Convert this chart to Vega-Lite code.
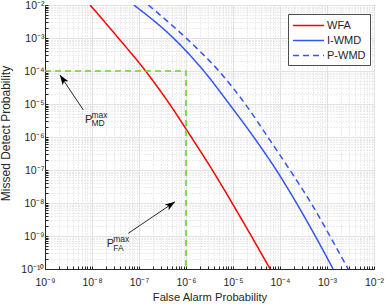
{
  "$schema": "https://vega.github.io/schema/vega-lite/v6.json",
  "width": 329,
  "height": 264,
  "autosize": {"type": "none"},
  "padding": {"left": 45, "top": 5, "right": 12, "bottom": 35},
  "background": "white",
  "config": {
    "view": {"stroke": "#262626", "strokeWidth": 1},
    "font": "Liberation Sans",
    "axis": {
      "labelFont": "Liberation Sans",
      "labelFontSize": 10.5,
      "labelColor": "#262626",
      "titleFont": "Liberation Sans",
      "titleFontWeight": "normal",
      "titleColor": "#262626",
      "domainColor": "#262626",
      "tickColor": "#262626",
      "gridOpacity": 1,
      "labelOverlap": false,
      "labelFlush": false,
      "labelBound": false
    },
    "legend": {
      "orient": "none",
      "legendX": 243,
      "legendY": 9,
      "fillColor": "white",
      "strokeColor": "#4d4d4d",
      "padding": 4,
      "symbolType": "M-1,0L3.77,0",
      "symbolSize": 169,
      "symbolStrokeWidth": 1.5,
      "labelOffset": 20,
      "labelFontSize": 11,
      "labelFont": "Liberation Sans",
      "labelColor": "#262626",
      "rowPadding": 2
    }
  },
  "datasets": {
    "curves": [
      {"series": "WFA", "x": 9.12e-9, "y": 1e-2},
      {"series": "WFA", "x": 3.63e-8, "y": 1e-3},
      {"series": "WFA", "x": 1.38e-7, "y": 1e-4},
      {"series": "WFA", "x": 4.47e-7, "y": 1e-5},
      {"series": "WFA", "x": 1.29e-6, "y": 1e-6},
      {"series": "WFA", "x": 3.63e-6, "y": 1e-7},
      {"series": "WFA", "x": 9.55e-6, "y": 1e-8},
      {"series": "WFA", "x": 2.45e-5, "y": 1e-9},
      {"series": "WFA", "x": 6.17e-5, "y": 1e-10},
      {"series": "I-WMD", "x": 7.76e-8, "y": 1e-2},
      {"series": "I-WMD", "x": 5.37e-7, "y": 1e-3},
      {"series": "I-WMD", "x": 2.40e-6, "y": 1e-4},
      {"series": "I-WMD", "x": 8.32e-6, "y": 1e-5},
      {"series": "I-WMD", "x": 2.75e-5, "y": 1e-6},
      {"series": "I-WMD", "x": 8.32e-5, "y": 1e-7},
      {"series": "I-WMD", "x": 2.24e-4, "y": 1e-8},
      {"series": "I-WMD", "x": 5.62e-4, "y": 1e-9},
      {"series": "I-WMD", "x": 1.35e-3, "y": 1e-10},
      {"series": "P-WMD", "x": 1.58e-7, "y": 1e-2},
      {"series": "P-WMD", "x": 1.0e-6, "y": 1e-3},
      {"series": "P-WMD", "x": 5.01e-6, "y": 1e-4},
      {"series": "P-WMD", "x": 1.82e-5, "y": 1e-5},
      {"series": "P-WMD", "x": 5.50e-5, "y": 1e-6},
      {"series": "P-WMD", "x": 1.62e-4, "y": 1e-7},
      {"series": "P-WMD", "x": 4.57e-4, "y": 1e-8},
      {"series": "P-WMD", "x": 1.15e-3, "y": 1e-9},
      {"series": "P-WMD", "x": 2.82e-3, "y": 1e-10}
    ],
    "thr": [
      {"o": 1, "x": 1e-9, "y": 1e-4},
      {"o": 2, "x": 1e-6, "y": 1e-4},
      {"o": 3, "x": 1e-6, "y": 1e-10}
    ],
    "arrows": [
      {"name": "MD", "x": 6.53e-9, "y": 6.6e-6, "x2": 2.08e-9, "y2": 7.56e-5},
      {"name": "FA", "x": 5.92e-8, "y": 1.21e-9, "x2": 5.83e-7, "y2": 1.09e-8}
    ],
    "labels": [
      {"sub": "MD", "x": 7.10e-9, "y": 2.71e-6},
      {"sub": "FA", "x": 2.06e-8, "y": 4.55e-10}
    ]
  },
  "layer": [
    {
      "data": {"name": "curves"},
      "mark": {"type": "line", "strokeWidth": 1.5, "interpolate": "monotone", "clip": true},
      "encoding": {
        "x": {
          "field": "x", "type": "quantitative",
          "scale": {"type": "log", "domain": [1e-9, 1e-2], "nice": false},
          "axis": {
            "title": "False Alarm Probability",
            "titleFontSize": 11.2,
            "titleBaseline": "alphabetic",
            "titleY": 31,
            "tickSize": -3,
            "labelPadding": 11,
            "values": [1e-9,2e-9,3e-9,4e-9,5e-9,6e-9,7e-9,8e-9,9e-9,1e-8,2e-8,3e-8,4e-8,5e-8,6e-8,7e-8,8e-8,9e-8,1e-7,2e-7,3e-7,4e-7,5e-7,6e-7,7e-7,8e-7,9e-7,1e-6,2e-6,3e-6,4e-6,5e-6,6e-6,7e-6,8e-6,9e-6,1e-5,2e-5,3e-5,4e-5,5e-5,6e-5,7e-5,8e-5,9e-5,1e-4,2e-4,3e-4,4e-4,5e-4,6e-4,7e-4,8e-4,9e-4,1e-3,2e-3,3e-3,4e-3,5e-3,6e-3,7e-3,8e-3,9e-3,1e-2],
            "labelExpr": "abs(log(datum.value)/LN10 - round(log(datum.value)/LN10)) < 0.01 ? '10' + ['⁻¹⁰','⁻⁹','⁻⁸','⁻⁷','⁻⁶','⁻⁵','⁻⁴','⁻³','⁻²'][round(log(datum.value)/LN10)+10] : ''",
            "gridDash": {"condition": {"test": "abs(log(datum.value)/LN10 - round(log(datum.value)/LN10)) > 0.01", "value": [1, 2]}, "value": []},
            "gridColor": {"condition": {"test": "abs(log(datum.value)/LN10 - round(log(datum.value)/LN10)) > 0.01", "value": "#d8d8d8"}, "value": "#e2e2e2"}
          }
        },
        "y": {
          "field": "y", "type": "quantitative",
          "scale": {"type": "log", "domain": [1e-10, 1e-2], "nice": false},
          "axis": {
            "title": "Missed Detect Probability",
            "titleFontSize": 12,
            "titleBaseline": "alphabetic",
            "titleX": -36,
            "titleY": 128,
            "titleAlign": "center",
            "tickSize": -3,
            "labelPadding": 4,
            "values": [1e-10,2e-10,3e-10,4e-10,5e-10,6e-10,7e-10,8e-10,9e-10,1e-9,2e-9,3e-9,4e-9,5e-9,6e-9,7e-9,8e-9,9e-9,1e-8,2e-8,3e-8,4e-8,5e-8,6e-8,7e-8,8e-8,9e-8,1e-7,2e-7,3e-7,4e-7,5e-7,6e-7,7e-7,8e-7,9e-7,1e-6,2e-6,3e-6,4e-6,5e-6,6e-6,7e-6,8e-6,9e-6,1e-5,2e-5,3e-5,4e-5,5e-5,6e-5,7e-5,8e-5,9e-5,1e-4,2e-4,3e-4,4e-4,5e-4,6e-4,7e-4,8e-4,9e-4,1e-3,2e-3,3e-3,4e-3,5e-3,6e-3,7e-3,8e-3,9e-3,1e-2],
            "labelExpr": "abs(log(datum.value)/LN10 - round(log(datum.value)/LN10)) < 0.01 ? '10' + ['⁻¹⁰','⁻⁹','⁻⁸','⁻⁷','⁻⁶','⁻⁵','⁻⁴','⁻³','⁻²'][round(log(datum.value)/LN10)+10] : ''",
            "gridDash": {"condition": {"test": "abs(log(datum.value)/LN10 - round(log(datum.value)/LN10)) > 0.01", "value": [1, 2]}, "value": []},
            "gridColor": {"condition": {"test": "abs(log(datum.value)/LN10 - round(log(datum.value)/LN10)) > 0.01", "value": "#d8d8d8"}, "value": "#e2e2e2"}
          }
        },
        "color": {
          "field": "series", "type": "nominal",
          "scale": {"domain": ["WFA", "I-WMD", "P-WMD"], "range": ["#ff0000", "#3355f5", "#3355f5"]},
          "legend": {"title": null}
        },
        "strokeDash": {
          "field": "series", "type": "nominal",
          "scale": {"domain": ["WFA", "I-WMD", "P-WMD"], "range": [[1, 0], [1, 0], [6, 4]]},
          "legend": {"title": null}
        }
      }
    },
    {
      "data": {"name": "thr"},
      "mark": {"type": "line", "color": "#66d91a", "strokeWidth": 1.6, "strokeDash": [6, 4]},
      "encoding": {
        "x": {"field": "x", "type": "quantitative"},
        "y": {"field": "y", "type": "quantitative"},
        "order": {"field": "o"}
      }
    },
    {
      "data": {"name": "arrows"},
      "mark": {"type": "rule", "color": "#262626", "strokeWidth": 1},
      "encoding": {
        "x": {"field": "x", "type": "quantitative"},
        "y": {"field": "y", "type": "quantitative"},
        "x2": {"field": "x2"},
        "y2": {"field": "y2"}
      }
    },
    {
      "data": {"name": "arrows"},
      "transform": [{"filter": "datum.name == 'MD'"}],
      "mark": {"type": "point", "shape": "M0,0L-0.35,1L0,0.75L0.35,1Z", "size": 400, "filled": true, "color": "#000000", "opacity": 1, "angle": 326},
      "encoding": {
        "x": {"field": "x2", "type": "quantitative"},
        "y": {"field": "y2", "type": "quantitative"}
      }
    },
    {
      "data": {"name": "arrows"},
      "transform": [{"filter": "datum.name == 'FA'"}],
      "mark": {"type": "point", "shape": "M0,0L-0.35,1L0,0.75L0.35,1Z", "size": 400, "filled": true, "color": "#000000", "opacity": 1, "angle": 56},
      "encoding": {
        "x": {"field": "x2", "type": "quantitative"},
        "y": {"field": "y2", "type": "quantitative"}
      }
    },
    {
      "data": {"name": "labels"},
      "mark": {"type": "text", "text": "P", "align": "left", "baseline": "alphabetic", "fontSize": 11, "color": "#262626"},
      "encoding": {
        "x": {"field": "x", "type": "quantitative"},
        "y": {"field": "y", "type": "quantitative"}
      }
    },
    {
      "data": {"name": "labels"},
      "mark": {"type": "text", "text": "max", "align": "left", "baseline": "alphabetic", "fontSize": 8.5, "dx": 6.5, "dy": -5, "color": "#262626"},
      "encoding": {
        "x": {"field": "x", "type": "quantitative"},
        "y": {"field": "y", "type": "quantitative"}
      }
    },
    {
      "data": {"name": "labels"},
      "mark": {"type": "text", "align": "left", "baseline": "alphabetic", "fontSize": 8.5, "dx": 6.5, "dy": 3.5, "color": "#262626"},
      "encoding": {
        "x": {"field": "x", "type": "quantitative"},
        "y": {"field": "y", "type": "quantitative"},
        "text": {"field": "sub"}
      }
    }
  ]
}
